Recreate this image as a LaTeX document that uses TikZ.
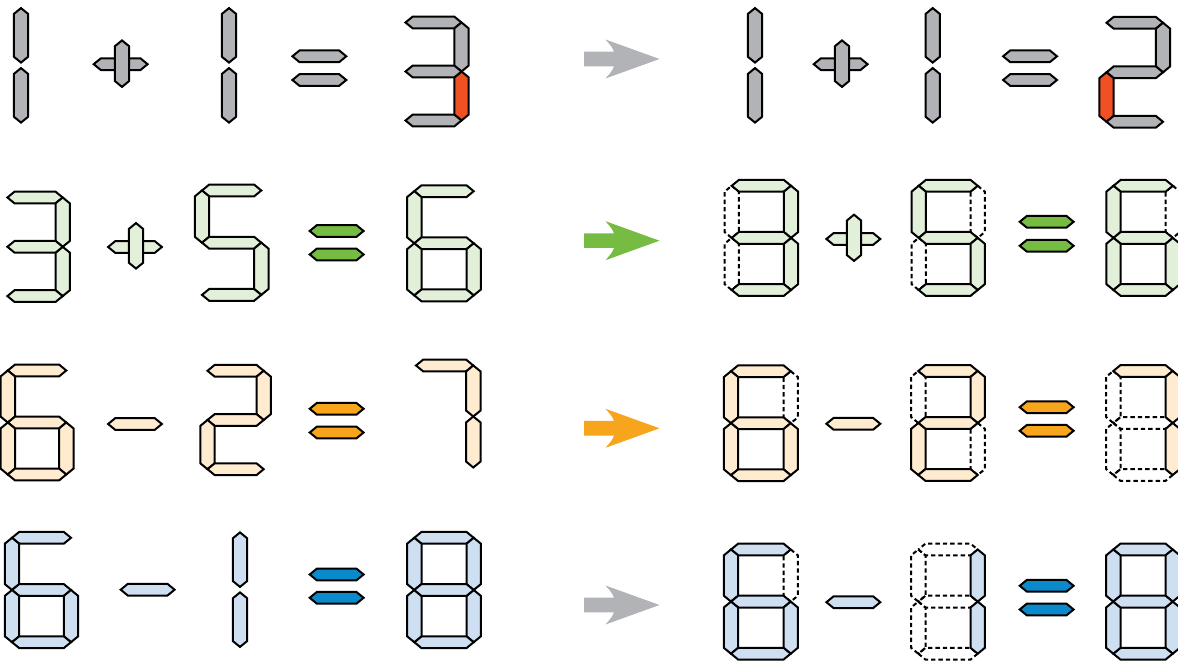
\documentclass[tikz,border=0pt]{standalone}
\definecolor{segGray}{HTML}{B1B3B6}
\definecolor{segRed}{HTML}{EF5124}
\definecolor{lightGreen}{HTML}{E2EFD9}
\definecolor{eqGreen}{HTML}{76BC43}
\definecolor{lightOrange}{HTML}{FEEBD0}
\definecolor{eqOrange}{HTML}{F7A51C}
\definecolor{lightBlue}{HTML}{CEDFF2}
\definecolor{eqBlue}{HTML}{0A8ACA}
\begin{document}
\begin{tikzpicture}[x=.5pt,y=-.5pt,line width=1pt,
    on/.style={draw,fill=\fillc},hot/.style={draw,fill=segRed},
    off/.style={draw,dash pattern=on 2.2pt off 1.5pt},
    eq/.style={draw,fill=#1},seg/.style={#1}]
            \useasboundingbox (0,0) rectangle (1178,662);
            \def\tx{7.2}
            \def\ty{5.9}
            \def\hs[#1](#2,#3,#4){\draw[#1] (#2,#4)--++(\tx,\ty)--(#3-\tx,#4+\ty)--(#3,#4)--(#3-\tx,#4-\ty)--(#2+\tx,#4-\ty)--cycle;}
            \def\vs[#1](#2,#3,#4){\draw[#1] (#2,#3)--++(\tx,\ty)--(#2+\tx,#4-\ty)--(#2,#4)--(#2-\tx,#4-\ty)--(#2-\tx,#3+\ty)--cycle;}
            \def\sga[#1](#2,#3,#4,#5){\hs[#1](#2,#2+#4,#3)}
            \def\sgb[#1](#2,#3,#4,#5){\vs[#1](#2+#4,#3,#3+#5)}
            \def\sgc[#1](#2,#3,#4,#5){\vs[#1](#2+#4,#3+#5,#3+2*#5)}
            \def\sgd[#1](#2,#3,#4,#5){\hs[#1](#2,#2+#4,#3+2*#5)}
            \def\sge[#1](#2,#3,#4,#5){\vs[#1](#2,#3+#5,#3+2*#5)}
            \def\sgf[#1](#2,#3,#4,#5){\vs[#1](#2,#3,#3+#5)}
            \def\sgg[#1](#2,#3,#4,#5){\hs[#1](#2,#2+#4,#3+#5)}
            \def\dig(#1,#2,#3,#4)#5{\edef\seglist{#5}\foreach \sgm/\stt in \seglist{\csname sg\sgm\endcsname[seg/.expanded=\stt](#1,#2,#3,#4)}}
            \def\arr(#1)#2{\fill[#2] (584,#1-7.3)--(614,#1-7.3) .. controls (612,#1-12) .. (605.5,#1-19.5)--(659.5,#1)--(605.5,#1+19.5) .. controls (612,#1+12) .. (614,#1+7.3)--(584,#1+7.3)--cycle;}
            \def\all{a/on,b/on,c/on,d/on,e/on,f/on,g/on}
            \def\six{a/on,f/on,g/on,e/on,c/on,d/on}
            \def\fillc{segGray}
            \foreach \x in {21,229,755,932.7}{\vs[on](\x,8.1,62.6) \vs[on](\x,68.1,122.6)}
            \foreach \x in {93.7,813.7}{\hs[on](\x,\x+53.9,64.2) \vs[on](\x+28.3,40.4,86.9)}
            \foreach \x in {292.4,1003.1}{\hs[on](\x,\x+53.9,56.3) \hs[on](\x,\x+53.9,80)}
            \dig(405.5,22.5,56,49){a/on,b/on,c/hot,d/on,g/on}
            \dig(1106.5,22.8,56.5,49.5){a/on,b/on,g/on,e/hot,d/on}
            \arr(59){segGray}
            \def\fillc{lightGreen}
            \dig(7.4,197.5,55.3,49.3){a/on,b/on,c/on,d/on,g/on}
            \hs[on](108.1,161.9,247) \vs[on](136,223.1,268.6)
            \dig(202,190.5,59.3,52.2){a/on,f/on,g/on,c/on,d/on}
            \foreach \y in {231,254.5}{\hs[eq=eqGreen](309.7,363.6,\y)}
            \dig(414.3,191.2,59.4,52.1){\six}
            \arr(240.7){eqGreen}
            \dig(731.7,185.8,59.3,52.1){e/off,f/off,a/on,b/on,c/on,d/on,g/on}
            \hs[on](826.4,880.3,239) \vs[on](854,214.7,260.9)
            \dig(918.7,185.8,59,52.1){b/off,e/off,a/on,f/on,g/on,c/on,d/on}
            \foreach \y in {221.8,245.8}{\hs[eq=eqGreen](1019.7,1073.6,\y)}
            \dig(1113.5,185.8,59.3,52.1){b/off,a/on,f/on,g/on,e/on,c/on,d/on}
            \def\fillc{lightOrange}
            \dig(7.8,370.5,58.5,52){\six}
            \hs[on](108.1,161.9,424)
            \dig(207.5,370.8,56.2,49.2){a/on,b/on,g/on,e/on,d/on}
            \foreach \y in {408.8,432.5}{\hs[eq=eqOrange](309.7,363.6,\y)}
            \dig(416,365.5,57.3,51){a/on,b/on,c/on}
            \arr(428.3){eqOrange}
            \dig(731,371.2,59.7,52){b/off,a/on,f/on,g/on,e/on,c/on,d/on}
            \hs[on](826.4,880.3,423.8)
            \dig(918.3,371,59.4,52){f/off,c/off,a/on,b/on,g/on,e/on,d/on}
            \foreach \y in {407.2,430.8}{\hs[eq=eqOrange](1019.7,1073.6,\y)}
            \dig(1113.3,371,59.4,52){d/off,e/off,f/off,g/off,a/on,b/on,c/on}
            \def\fillc{lightBlue}
            \dig(12,537.8,59,52.2){\six}
            \hs[on](120.7,174.6,589.7)
            \vs[on](240,532.4,586.9) \vs[on](240,592.4,646.9)
            \foreach \y in {574.5,597.8}{\hs[eq=eqBlue](309.7,363.6,\y)}
            \dig(414.3,537.8,59.4,52.2){\all}
            \arr(605){segGray}
            \dig(731,549.5,59.7,52.1){b/off,a/on,f/on,g/on,e/on,c/on,d/on}
            \hs[on](826.4,880.3,602.2)
            \dig(918.3,549.5,59.4,52.1){a/off,d/off,e/off,f/off,g/off,b/on,c/on}
            \foreach \y in {585.8,609.5}{\hs[eq=eqBlue](1019.7,1073.6,\y)}
            \dig(1113.3,549.5,59.4,52.1){\all}
\end{tikzpicture}
\end{document}
